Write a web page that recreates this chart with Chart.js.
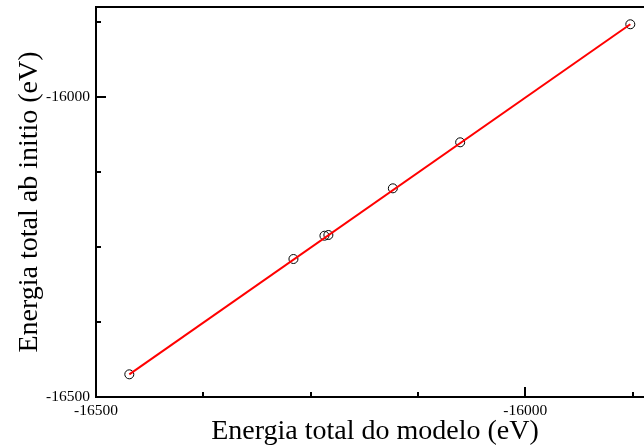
<!DOCTYPE html>
<html>
<head>
<meta charset="utf-8">
<script src="https://cdn.jsdelivr.net/npm/chart.js@4"></script>
<style>
html,body{margin:0;padding:0;background:#fff;overflow:hidden;width:644px;height:448px;}
#wrap{width:660px;height:448px;position:relative;}
</style>
</head>
<body>
<div id="wrap"><canvas id="c" width="660" height="448"></canvas></div>
<script>
const modelEnergy = [-16461.2, -16270.0, -16233.9, -16229.3, -16154.2, -16075.8, -15877.6];
const abInitioEnergy = [-16462.2, -16270.0, -16231.2, -16230.0, -16152.2, -16075.5, -15878.8];
const fitX = [-16461.2, -15877.6];
const fitY = [-16462.2, -15878.8];
const axisMin = -16500, axisMax = -15850, minorStep = 125, majorStep = 500;
const xTitle = 'Energia total do modelo (eV)';
const yTitle = 'Energia total ab initio (eV)';

const pts = modelEnergy.map((x, i) => ({x, y: abInitioEnergy[i]}));
const fit = fitX.map((x, i) => ({x, y: fitY[i]}));

const inwardTicks = {
  id: 'inwardTicks',
  afterDatasetsDraw(chart) {
    const ctx = chart.ctx, a = chart.chartArea;
    ctx.save();
    ctx.strokeStyle = '#000';
    ctx.lineWidth = 2;
    ctx.beginPath();
    ctx.moveTo(a.left, a.top); ctx.lineTo(a.right, a.top);
    ctx.lineTo(a.right, a.bottom); ctx.lineTo(a.left, a.bottom); ctx.closePath();
    ctx.stroke();
    const xs = chart.scales.x, ys = chart.scales.y;
    for (let v = axisMin; v <= axisMax; v += minorStep) {
      const major = v % majorStep === 0;
      const len = major ? 10 : 5;
      const px = Math.round(xs.getPixelForValue(v));
      ctx.beginPath(); ctx.moveTo(px, a.bottom); ctx.lineTo(px, a.bottom - len); ctx.stroke();
      const py = Math.round(ys.getPixelForValue(v));
      ctx.beginPath(); ctx.moveTo(a.left, py); ctx.lineTo(a.left + len, py); ctx.stroke();
    }
    ctx.restore();
  }
};

const tickFont = {family: '"Liberation Serif", "Times New Roman", serif', size: 15.5};
const titleFont = {family: '"Liberation Serif", "Times New Roman", serif', size: 28};

new Chart(document.getElementById('c'), {
  type: 'scatter',
  data: {
    datasets: [
      {
        type: 'line', data: fit, borderColor: '#ff0000', borderWidth: 2,
        pointRadius: 0, fill: false, tension: 0
      },
      {
        data: pts, borderColor: '#000', backgroundColor: 'rgba(0,0,0,0)',
        borderWidth: 1, pointRadius: 4.5, pointHoverRadius: 4.5, showLine: false
      }
    ]
  },
  options: {
    responsive: false, animation: false, devicePixelRatio: 1,
    layout: {padding: {top: 7, right: 6, left: 0, bottom: 0}},
    plugins: {legend: {display: false}, tooltip: {enabled: false}},
    scales: {
      x: {
        type: 'linear', min: axisMin, max: axisMax,
        grid: {display: false, drawTicks: false},
        border: {display: false},
        afterBuildTicks(s) { s.ticks = []; for (let v = axisMin; v <= axisMax; v += minorStep) s.ticks.push({value: v}); },
        afterFit(s) { s.height = 51; s.paddingLeft = 0; s.paddingRight = 0; },
        ticks: {
          font: tickFont, color: '#000', padding: 5, maxRotation: 0, autoSkip: false,
          callback: v => (v % majorStep === 0 ? String(v) : '')
        },
        title: {display: true, text: xTitle, font: titleFont, color: '#000', padding: {top: 0, bottom: 0}}
      },
      y: {
        type: 'linear', min: axisMin, max: axisMax,
        grid: {display: false, drawTicks: false},
        border: {display: false},
        afterBuildTicks(s) { s.ticks = []; for (let v = axisMin; v <= axisMax; v += minorStep) s.ticks.push({value: v}); },
        afterFit(s) { s.width = 96; s.paddingTop = 0; s.paddingBottom = 0; },
        ticks: {
          font: tickFont, color: '#000', padding: 6, autoSkip: false,
          callback: v => (v % majorStep === 0 ? String(v) : '')
        },
        title: {display: true, text: yTitle, font: titleFont, color: '#000', padding: {top: 13, bottom: 0}}
      }
    }
  },
  plugins: [inwardTicks]
});
</script>
</body>
</html>
